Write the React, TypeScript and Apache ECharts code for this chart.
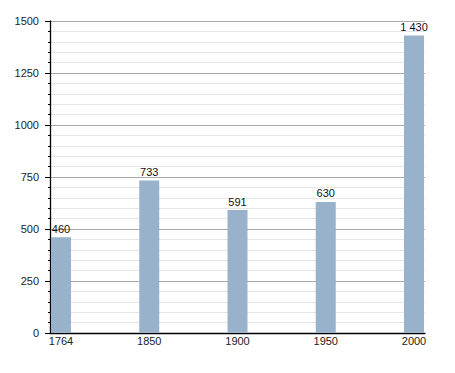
import React, { useEffect, useRef } from "react";
import * as echarts from "echarts";

const categories = ["1764", "1850", "1900", "1950", "2000"];
const population = [460, 733, 591, 630, 1430];
const yTicks = [0, 250, 500, 750, 1000, 1250, 1500];

const FONT = "'Liberation Sans', Arial, Helvetica, sans-serif";

function fmt(v: number): string {
  return String(v).replace(/\B(?=(\d{3})+(?!\d))/g, " ");
}

export default function App() {
  const ref = useRef<HTMLDivElement>(null);
  useEffect(() => {
    document.body.style.margin = "0";
    if (!ref.current) return;
    const chart = echarts.init(ref.current, undefined, { renderer: "svg" });
    const yMin = yTicks[0];
    const yMax = yTicks[yTicks.length - 1];
    const step = yTicks[1] - yTicks[0];
    chart.setOption({
      animation: false,
      backgroundColor: "#ffffff",
      grid: [
        { left: 50, right: 30, top: 21, bottom: 40 },
        { left: 61, right: 41, top: 21, bottom: 40 },
      ],
      xAxis: [
        {
          type: "category",
          gridIndex: 0,
          data: categories,
          axisLine: { show: true, lineStyle: { color: "#000", width: 1.3 } },
          axisTick: { show: false },
          axisLabel: { show: false },
          splitLine: { show: false },
        },
        {
          type: "category",
          gridIndex: 1,
          data: categories,
          boundaryGap: false,
          axisLine: { show: false },
          axisTick: { show: false },
          axisLabel: {
            show: true,
            margin: 2,
            color: "#222",
            fontSize: 11,
            fontFamily: FONT,
          },
          splitLine: { show: false },
        },
      ],
      yAxis: [
        {
          type: "value",
          gridIndex: 0,
          min: yMin,
          max: yMax,
          interval: step,
          axisLine: { show: true, lineStyle: { color: "#000", width: 1.3 } },
          axisTick: { show: true, length: 5, lineStyle: { color: "#000" } },
          minorTick: { show: true, splitNumber: 5, length: 2, lineStyle: { color: "#000" } },
          axisLabel: {
            margin: 11,
            color: "#222",
            fontSize: 11,
            fontFamily: FONT,
            formatter: (v: number) => String(v),
          },
          splitLine: { show: true, lineStyle: { color: "#a8a8a8", width: 1 } },
          minorSplitLine: { show: true, lineStyle: { color: "#e6e6e6", width: 1 } },
        },
        {
          type: "value",
          gridIndex: 1,
          min: yMin,
          max: yMax,
          interval: step,
          show: false,
          splitLine: { show: false },
        },
      ],
      series: [
        {
          type: "bar",
          xAxisIndex: 1,
          yAxisIndex: 1,
          data: population,
          barWidth: 20,
          itemStyle: { color: "#98b2cc" },
          label: {
            show: true,
            position: "top",
            distance: 3,
            color: "#111",
            fontSize: 11,
            fontFamily: FONT,
            formatter: (p: any) => fmt(p.value),
          },
        },
      ],
    });
    return () => chart.dispose();
  }, []);
  return <div ref={ref} style={{ width: 455, height: 373 }} />;
}
